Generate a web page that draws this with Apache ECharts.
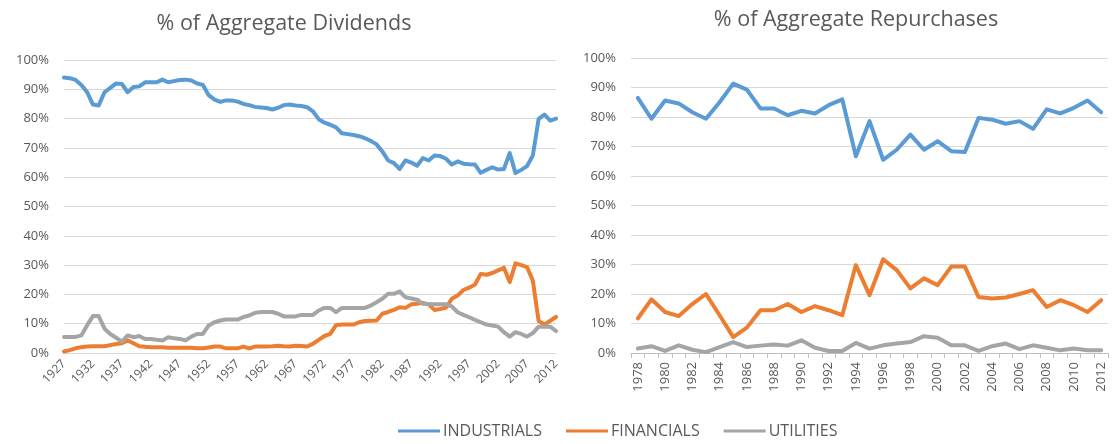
<!DOCTYPE html>
<html>
<head>
<meta charset="utf-8">
<title>% of Aggregate Dividends / Repurchases</title>
<script src="https://cdn.jsdelivr.net/npm/echarts@6/dist/echarts.min.js"></script>
<style>
    html, body { margin: 0; padding: 0; background: #fff; }
    #main { width: 1113px; height: 444px; }
</style>
</head>
<body>
<div id="main"></div>
<script>
// years on the two x axes
var divYears = [];
for (var y = 1927; y <= 2012; y++) { divYears.push(String(y)); }
var repYears = [];
for (var y = 1978; y <= 2012; y++) { repYears.push(String(y)); }

// % of aggregate dividends, 1927-2012
var divIndustrials = [
    94, 93.8, 93.2, 91.5, 89, 84.8, 84.5, 89, 90.5, 92,
    91.8, 89, 90.8, 91, 92.4, 92.4, 92.4, 93.3, 92.4, 92.8,
    93.2, 93.3, 93, 92, 91.5, 88, 86.5, 85.7, 86.2, 86.2,
    85.8, 85, 84.6, 84, 83.8, 83.6, 83.1, 83.7, 84.6, 84.8,
    84.5, 84.3, 83.9, 82.5, 79.8, 78.6, 77.9, 77, 75, 74.7,
    74.4, 74, 73.3, 72.4, 71.2, 68.8, 65.7, 64.8, 62.8, 65.7,
    65, 63.9, 66.5, 65.7, 67.4, 67.2, 66.3, 64.3, 65.4, 64.6,
    64.4, 64.3, 61.5, 62.5, 63.4, 62.6, 62.8, 68.2, 61.4, 62.5,
    63.8, 67.4, 79.9, 81.4, 79.3, 80
];
var divFinancials = [
    0.5, 1, 1.6, 2, 2.2, 2.3, 2.3, 2.3, 2.7, 3.1,
    3.3, 4.3, 3.3, 2.3, 2.1, 2, 2, 2, 1.8, 1.8,
    1.8, 1.8, 1.8, 1.6, 1.6, 1.9, 2.2, 2.2, 1.6, 1.6,
    1.6, 2.2, 1.6, 2.2, 2.2, 2.2, 2.3, 2.5, 2.3, 2.2,
    2.5, 2.4, 2.2, 3.1, 4.5, 5.8, 6.5, 9.5, 9.7, 9.7,
    9.7, 10.5, 10.9, 11, 11.1, 13.4, 14, 14.7, 15.6, 15.4,
    16.6, 16.8, 17.1, 16.6, 14.7, 15, 15.5, 18.5, 19.6, 21.5,
    22.3, 23.4, 27, 26.7, 27.3, 28.2, 29.1, 24.2, 30.6, 30,
    29.3, 24.7, 10.9, 9.7, 11, 12.3
];
var divUtilities = [
    5.5, 5.5, 5.5, 6, 9.5, 12.6, 12.6, 8.3, 6.5, 5.2,
    3.9, 6, 5.4, 5.8, 4.8, 4.8, 4.5, 4.3, 5.4, 5,
    4.8, 4.3, 5.6, 6.5, 6.5, 9.4, 10.5, 11.1, 11.4, 11.4,
    11.4, 12.3, 12.8, 13.7, 14, 14, 14, 13.4, 12.5, 12.5,
    12.5, 13, 13, 13, 14.5, 15.4, 15.4, 13.9, 15.4, 15.4,
    15.4, 15.4, 15.4, 16.2, 17.3, 18.5, 20.2, 20.2, 21, 19,
    18.6, 18.2, 16.8, 16.7, 16.6, 16.6, 16.6, 15.9, 13.9, 13,
    12.2, 11.3, 10.5, 9.7, 9.4, 9, 7.1, 5.6, 7.1, 6.5,
    5.6, 6.8, 9, 9, 9, 7.5
];

// % of aggregate repurchases, 1978-2012
var repIndustrials = [
    86.5, 79.4, 85.6, 84.6, 81.6, 79.4, 85, 91.3, 89.3, 82.9,
    82.9, 80.6, 82.1, 81.2, 84, 86, 66.7, 78.6, 65.5, 68.9,
    74, 68.9, 71.8, 68.4, 68.1, 79.7, 79.1, 77.7, 78.6, 76,
    82.6, 81.2, 83.1, 85.6, 81.6
];
var repFinancials = [
    11.7, 18.2, 13.9, 12.5, 16.6, 20, 12.8, 5.4, 8.6, 14.5,
    14.5, 16.6, 13.9, 15.9, 14.5, 12.8, 29.8, 19.6, 31.8, 28.1,
    21.9, 25.3, 23, 29.3, 29.3, 19, 18.5, 18.8, 20, 21.3,
    15.6, 17.9, 16.2, 13.9, 17.9
];
var repUtilities = [
    1.5, 2.3, 0.7, 2.6, 1.1, 0.3, 2, 3.7, 2, 2.5,
    2.9, 2.5, 4.3, 1.8, 0.7, 0.7, 3.4, 1.5, 2.6, 3.2,
    3.7, 5.7, 5.2, 2.6, 2.6, 0.7, 2.3, 3.2, 1.3, 2.6,
    1.8, 0.9, 1.5, 0.9, 0.9
];

var seriesNames = ['INDUSTRIALS', 'FINANCIALS', 'UTILITIES'];
var colors = ['#5B9BD5', '#ED7D31', '#A5A5A5'];

var textColor = '#595959';
var gridColor = '#D9D9D9';
var fontName = '"Open Sans", sans-serif';

function yAxisFor(idx) {
    return {
        gridIndex: idx,
        type: 'value',
        min: 0,
        max: 100,
        interval: 10,
        axisLine: { show: false },
        axisTick: { show: false },
        axisLabel: {
            formatter: '{value}%',
            color: textColor,
            fontSize: 13,
            fontFamily: fontName,
            margin: 15
        },
        splitLine: { lineStyle: { color: gridColor, width: 1 } }
    };
}

function lineSeries(name, color, data, idx) {
    return {
        name: name,
        type: 'line',
        xAxisIndex: idx,
        yAxisIndex: idx,
        data: data,
        showSymbol: false,
        symbol: 'none',
        lineStyle: { color: color, width: 4, cap: 'round', join: 'round' },
        itemStyle: { color: color },
        z: 3
    };
}

var myChart = echarts.init(document.getElementById('main'), null, { renderer: 'canvas' });

var option = {
    animation: false,
    backgroundColor: '#ffffff',
    color: colors,
    title: [
        {
            text: '% of Aggregate Dividends',
            left: 279,
            top: 8,
            textAlign: 'center',
            textStyle: { color: textColor, fontSize: 21.5, fontWeight: 'normal', fontFamily: fontName }
        },
        {
            text: '% of Aggregate Repurchases',
            left: 851,
            top: 4,
            textAlign: 'center',
            textStyle: { color: textColor, fontSize: 21.5, fontWeight: 'normal', fontFamily: fontName }
        }
    ],
    legend: {
        data: seriesNames,
        bottom: 0,
        left: 393,
        icon: 'rect',
        itemWidth: 42,
        itemHeight: 3,
        itemGap: 24,
        textStyle: { color: textColor, fontSize: 16, fontFamily: fontName, padding: [0, 0, 0, -2] }
    },
    grid: [
        { left: 64, top: 60, width: 492, height: 293 },
        { left: 631, top: 58, width: 477, height: 295 }
    ],
    xAxis: [
        {
            gridIndex: 0,
            type: 'category',
            boundaryGap: false,
            data: divYears,
            axisLine: { show: true, lineStyle: { color: gridColor } },
            axisTick: { show: false },
            axisLabel: {
                interval: 4,
                rotate: 45,
                color: textColor,
                fontSize: 12,
                fontFamily: fontName,
                margin: 9
            },
            splitLine: { show: false }
        },
        {
            gridIndex: 1,
            type: 'category',
            boundaryGap: true,
            data: repYears,
            axisLine: { show: true, lineStyle: { color: '#BFBFBF' } },
            axisTick: { show: true, interval: 0, length: 5, lineStyle: { color: '#BFBFBF' } },
            axisLabel: {
                interval: 1,
                rotate: 90,
                color: textColor,
                fontSize: 13,
                fontFamily: fontName,
                margin: 9
            },
            splitLine: { show: false }
        }
    ],
    yAxis: [yAxisFor(0), yAxisFor(1)],
    series: [
        lineSeries(seriesNames[0], colors[0], divIndustrials, 0),
        lineSeries(seriesNames[1], colors[1], divFinancials, 0),
        lineSeries(seriesNames[2], colors[2], divUtilities, 0),
        lineSeries(seriesNames[0], colors[0], repIndustrials, 1),
        lineSeries(seriesNames[1], colors[1], repFinancials, 1),
        lineSeries(seriesNames[2], colors[2], repUtilities, 1)
    ]
};

myChart.setOption(option);
</script>
</body>
</html>
